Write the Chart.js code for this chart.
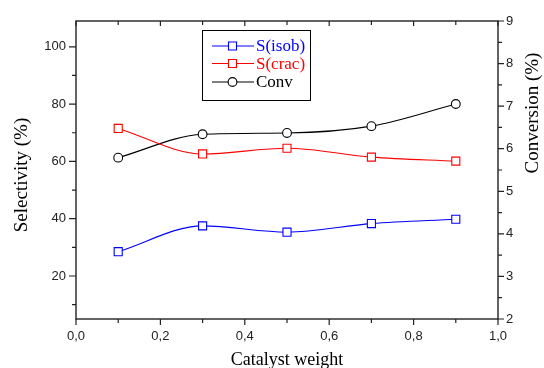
<!DOCTYPE html>
<html>
<head>
<meta charset="utf-8">
<script src="https://cdn.jsdelivr.net/npm/chart.js@4/dist/chart.umd.min.js"></script>
<style>
  html, body { margin: 0; padding: 0; background: #fff; }
  #wrap { width: 544px; height: 368px; position: relative; }
</style>
</head>
<body>
<div id="wrap"><canvas id="c"></canvas></div>
<script>
// Catalyst weight (x) and measured results
const catalystWeight = [0.1, 0.3, 0.5, 0.7, 0.9];
const selIsob = [28.5, 37.5, 35.3, 38.3, 39.8];   // S(isob), %
const selCrac = [71.5, 62.6, 64.6, 61.5, 60.1];   // S(crac), %
const conversion = [5.79, 6.34, 6.37, 6.53, 7.05]; // Conv, %

// Axis ticks
const xMajorTicks = [0, 0.2, 0.4, 0.6, 0.8, 1.0];
const xMinorTicks = [0.1, 0.3, 0.5, 0.7, 0.9];
const yLeftMajor = [20, 40, 60, 80, 100];
const yLeftMinor = [10, 30, 50, 70, 90];
const yRightMajor = [2, 3, 4, 5, 6, 7, 8, 9];
const yRightMinor = [2.5, 3.5, 4.5, 5.5, 6.5, 7.5, 8.5];

const seriesNames = ['S(isob)', 'S(crac)', 'Conv'];
const seriesColors = ['#0000ff', '#ff0000', '#000000'];

const toPoints = ys => ys.map((y, i) => ({ x: catalystWeight[i], y }));

const AXIS = '#222';
const tickFont = { family: 'Liberation Sans, Arial, sans-serif', size: 13 };

// Frame, tick marks, axis titles and the boxed legend
const decorations = {
  id: 'decorations',
  afterDraw(chart) {
    const ctx = chart.ctx;
    const a = chart.chartArea;
    const sx = chart.scales.x, sy = chart.scales.y, sy1 = chart.scales.y1;
    ctx.save();
    ctx.strokeStyle = AXIS;
    ctx.lineWidth = 1.4;
    ctx.strokeRect(a.left, a.top, a.right - a.left, a.bottom - a.top);

    ctx.lineWidth = 1.2;
    ctx.beginPath();
    const tick = (x1, y1, x2, y2) => { ctx.moveTo(x1, y1); ctx.lineTo(x2, y2); };
    xMajorTicks.forEach(v => { const p = sx.getPixelForValue(v); tick(p, a.bottom, p, a.bottom + 6); tick(p, a.top, p, a.top + 5); });
    xMinorTicks.forEach(v => { const p = sx.getPixelForValue(v); tick(p, a.bottom, p, a.bottom + 4); tick(p, a.top, p, a.top + 4); });
    yLeftMajor.forEach(v => { const p = sy.getPixelForValue(v); tick(a.left, p, a.left - 7, p); });
    yLeftMinor.forEach(v => { const p = sy.getPixelForValue(v); tick(a.left, p, a.left - 4, p); });
    yRightMajor.forEach(v => { const p = sy1.getPixelForValue(v); tick(a.right, p, a.right + 6, p); });
    yRightMinor.forEach(v => { const p = sy1.getPixelForValue(v); tick(a.right, p, a.right + 4, p); });
    ctx.stroke();

    // Axis titles
    ctx.fillStyle = '#000';
    ctx.textAlign = 'center';
    ctx.textBaseline = 'middle';
    ctx.font = '18px "Liberation Serif", "Times New Roman", serif';
    ctx.fillText('Catalyst weight', (a.left + a.right) / 2, 360);
    ctx.font = '19px "Liberation Serif", "Times New Roman", serif';
    ctx.save();
    ctx.translate(22, 175);
    ctx.rotate(-Math.PI / 2);
    ctx.fillText('Selectivity (%)', 0, 0);
    ctx.restore();
    ctx.save();
    ctx.translate(533, 113);
    ctx.rotate(-Math.PI / 2);
    ctx.fillText('Conversion (%)', 0, 0);
    ctx.restore();

    // Legend box
    const bx = 202.5, by = 30.5, bw = 108, bh = 70;
    ctx.fillStyle = '#fff';
    ctx.fillRect(bx, by, bw, bh);
    ctx.strokeStyle = '#000';
    ctx.lineWidth = 1;
    ctx.strokeRect(bx, by, bw, bh);
    const rowsY = [46, 63.5, 82];
    ctx.font = '17px "Liberation Serif", "Times New Roman", serif';
    ctx.textAlign = 'left';
    seriesNames.forEach((name, i) => {
      const y = rowsY[i];
      ctx.strokeStyle = seriesColors[i];
      ctx.lineWidth = 1.1;
      ctx.beginPath(); ctx.moveTo(212, y); ctx.lineTo(254, y); ctx.stroke();
      ctx.fillStyle = '#fff';
      ctx.beginPath();
      if (i < 2) ctx.rect(228.5, y - 4, 8, 8); else ctx.arc(232.5, y, 4.4, 0, Math.PI * 2);
      ctx.fill(); ctx.stroke();
      ctx.fillStyle = seriesColors[i];
      ctx.fillText(name, 256, y + 1);
    });
    ctx.restore();
  }
};

const ds = (label, ys, color, axis, style, radius) => ({
  label, data: toPoints(ys), yAxisID: axis,
  borderColor: color, borderWidth: 1.1,
  pointStyle: style, pointRadius: radius, pointHoverRadius: radius,
  pointBackgroundColor: '#fff', pointBorderColor: color, pointBorderWidth: 1.1,
  cubicInterpolationMode: 'monotone', fill: false
});

new Chart(document.getElementById('c'), {
  type: 'line',
  data: {
    datasets: [
      ds(seriesNames[0], selIsob, seriesColors[0], 'y', 'rect', 5.7),
      ds(seriesNames[1], selCrac, seriesColors[1], 'y', 'rect', 5.7),
      ds(seriesNames[2], conversion, seriesColors[2], 'y1', 'circle', 4.4)
    ]
  },
  options: {
    responsive: true,
    maintainAspectRatio: false,
    animation: false,
    events: [],
    layout: { padding: { top: 21, left: 0, right: 0, bottom: 0 } },
    plugins: { legend: { display: false }, tooltip: { enabled: false } },
    scales: {
      x: {
        type: 'linear', position: 'bottom', min: 0, max: 1,
        afterBuildTicks: s => { s.ticks = xMajorTicks.map(v => ({ value: v })); },
        afterFit: s => { s.height = 49; },
        grid: { display: false, drawTicks: false },
        border: { display: false },
        ticks: { color: AXIS, font: tickFont, padding: 10, maxRotation: 0,
                 callback: v => v.toFixed(1).replace('.', ',') }
      },
      y: {
        type: 'linear', position: 'left', min: 5, max: 109,
        afterBuildTicks: s => { s.ticks = yLeftMajor.map(v => ({ value: v })); },
        afterFit: s => { s.width = 76; },
        grid: { display: false, drawTicks: false },
        border: { display: false },
        ticks: { color: AXIS, font: tickFont, padding: 10 }
      },
      y1: {
        type: 'linear', position: 'right', min: 2, max: 9,
        afterBuildTicks: s => { s.ticks = yRightMajor.map(v => ({ value: v })); },
        afterFit: s => { s.width = 46; },
        grid: { display: false, drawTicks: false },
        border: { display: false },
        ticks: { color: AXIS, font: tickFont, padding: 8 }
      }
    }
  },
  plugins: [decorations]
});
</script>
</body>
</html>
